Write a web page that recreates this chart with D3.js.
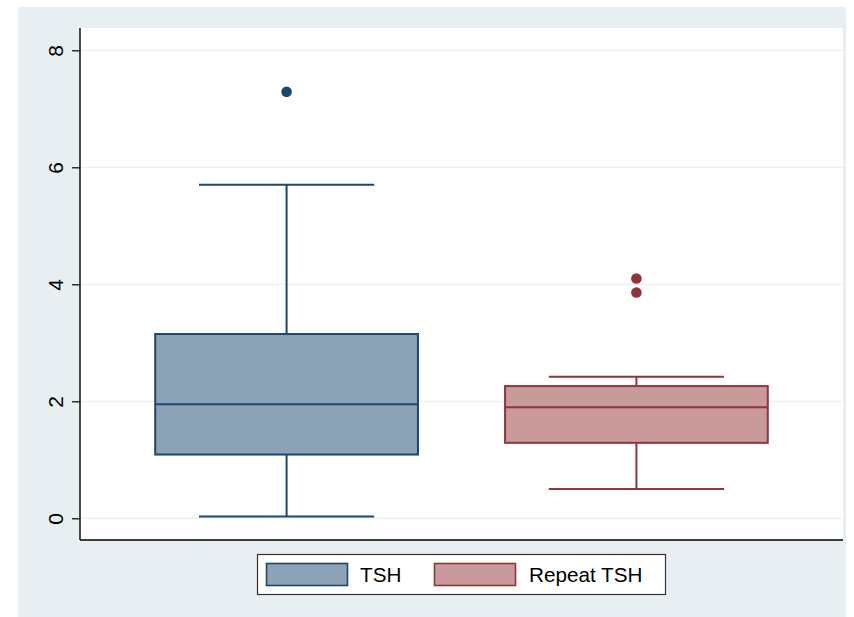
<!DOCTYPE html>
<html>
<head>
<meta charset="utf-8">
<script src="https://cdn.jsdelivr.net/npm/d3@7"></script>
<style>
  html, body { margin: 0; padding: 0; background: #ffffff; }
  svg { display: block; font-family: "Liberation Sans", Arial, Helvetica, sans-serif; }
</style>
</head>
<body>
<svg id="chart" width="854" height="617"></svg>
<script>
// Box-plot summaries for each measurement
const groups = ["TSH", "Repeat TSH"];
const lowerWhisker = [0.03, 0.50];
const q1 = [1.09, 1.29];
const median = [1.95, 1.90];
const q3 = [3.15, 2.26];
const upperWhisker = [5.70, 2.42];
const outliers = [[7.29], [4.10, 3.86]];
const yTicks = [0, 2, 4, 6, 8];

const strokeColors = ["#1a476f", "#90353b"];
const fillColors = ["#8ca3b7", "#c89a9c"];

const svg = d3.select("#chart");

// outer panel
svg.append("rect").attr("x", 18).attr("y", 7).attr("width", 828).attr("height", 610)
  .attr("fill", "#e8eff2");

const plot = { left: 80, right: 843, top: 28, bottom: 540 };
svg.append("rect").attr("x", plot.left).attr("y", plot.top)
  .attr("width", plot.right - plot.left).attr("height", plot.bottom - plot.top)
  .attr("fill", "#ffffff");

const y = d3.scaleLinear().domain([0, 8]).range([518.3, 50.3]);
const x = d3.scaleBand().domain(groups).range([plot.left, plot.right])
  .paddingInner(0.249).paddingOuter(0.215);

// grid lines
svg.append("g").selectAll("line").data(yTicks).join("line")
  .attr("x1", plot.left).attr("x2", plot.right)
  .attr("y1", d => y(d)).attr("y2", d => y(d))
  .attr("stroke", "#eaf1f3").attr("stroke-width", 1.3);

// y axis
const yAxis = d3.axisLeft(y).tickValues(yTicks).tickSize(8).tickPadding(9).tickFormat(d3.format("d"));
const gy = svg.append("g").attr("transform", `translate(${plot.left},0)`).call(yAxis);
gy.select(".domain").remove();
gy.selectAll(".tick line").attr("stroke", "#000").attr("stroke-width", 1.2);
gy.selectAll(".tick text")
  .attr("font-size", 21).attr("fill", "#000")
  .attr("text-anchor", "middle")
  .attr("x", null).attr("dy", null)
  .attr("transform", "translate(-17,0) rotate(-90)")
  .attr("y", 0).attr("dominant-baseline", "auto");

// axis lines
svg.append("line").attr("x1", plot.left).attr("x2", plot.left)
  .attr("y1", plot.top).attr("y2", plot.bottom)
  .attr("stroke", "#000").attr("stroke-width", 1.4);
svg.append("line").attr("x1", plot.left).attr("x2", plot.right)
  .attr("y1", plot.bottom).attr("y2", plot.bottom)
  .attr("stroke", "#000").attr("stroke-width", 1.4);

// boxes
groups.forEach((g, i) => {
  const x0 = x(g), bw = x.bandwidth(), cx = x0 + bw / 2, capW = bw * 2 / 3;
  const gg = svg.append("g");
  const sc = strokeColors[i];
  // whiskers
  gg.append("line").attr("x1", cx).attr("x2", cx).attr("y1", y(q3[i])).attr("y2", y(upperWhisker[i]))
    .attr("stroke", sc).attr("stroke-width", 2);
  gg.append("line").attr("x1", cx).attr("x2", cx).attr("y1", y(q1[i])).attr("y2", y(lowerWhisker[i]))
    .attr("stroke", sc).attr("stroke-width", 2);
  gg.append("line").attr("x1", cx - capW / 2).attr("x2", cx + capW / 2)
    .attr("y1", y(upperWhisker[i])).attr("y2", y(upperWhisker[i]))
    .attr("stroke", sc).attr("stroke-width", 2);
  gg.append("line").attr("x1", cx - capW / 2).attr("x2", cx + capW / 2)
    .attr("y1", y(lowerWhisker[i])).attr("y2", y(lowerWhisker[i]))
    .attr("stroke", sc).attr("stroke-width", 2);
  // box
  gg.append("rect").attr("x", x0).attr("y", y(q3[i]))
    .attr("width", bw).attr("height", y(q1[i]) - y(q3[i]))
    .attr("fill", fillColors[i]).attr("stroke", sc).attr("stroke-width", 2);
  gg.append("line").attr("x1", x0).attr("x2", x0 + bw)
    .attr("y1", y(median[i])).attr("y2", y(median[i]))
    .attr("stroke", sc).attr("stroke-width", 2);
  // outside values
  gg.selectAll("circle").data(outliers[i]).join("circle")
    .attr("cx", cx).attr("cy", d => y(d)).attr("r", 5.3)
    .attr("fill", sc);
});

// legend
const legend = svg.append("g");
legend.append("rect").attr("x", 257.5).attr("y", 554.5).attr("width", 408).attr("height", 40)
  .attr("fill", "#ffffff").attr("stroke", "#333").attr("stroke-width", 1.2);
const legendItems = [
  { swatchX: 266.5, textX: 360 },
  { swatchX: 434.5, textX: 529 }
];
groups.forEach((g, i) => {
  legend.append("rect").attr("x", legendItems[i].swatchX).attr("y", 563.5)
    .attr("width", 81).attr("height", 22)
    .attr("fill", fillColors[i]).attr("stroke", strokeColors[i]).attr("stroke-width", 1.6);
  legend.append("text").attr("x", legendItems[i].textX).attr("y", 582)
    .attr("font-size", 20.7).attr("fill", "#000").text(g);
});
</script>
</body>
</html>
